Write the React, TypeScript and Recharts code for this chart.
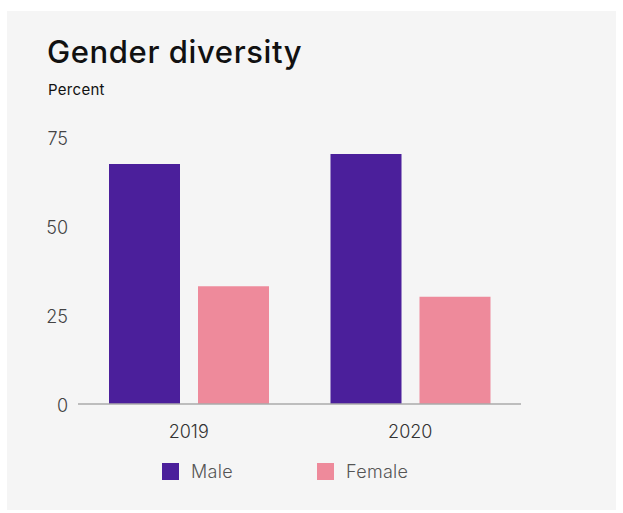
import React from 'react'
import { BarChart, Bar, XAxis, YAxis, Legend } from 'recharts'

const years = ['2019', '2020']
const maleShare = [67.4, 70.2]
const femaleShare = [33.1, 30.1]
const yTicks = [0, 25, 50, 75]

const series = [
  { key: 'male', name: 'Male', color: '#4B1F9B' },
  { key: 'female', name: 'Female', color: '#EE8A9B' },
]

const data = years.map((year, i) => ({ year, male: maleShare[i], female: femaleShare[i] }))

const FONT = 'Inter, "Noto Sans", sans-serif'

function LegendRow() {
  return (
    <div style={{ display: 'flex', alignItems: 'center', height: 20, fontFamily: FONT }}>
      {series.map((s) => (
        <div key={s.key} style={{ display: 'flex', alignItems: 'center', width: 155 }}>
          <span style={{ display: 'inline-block', width: 17, height: 17, background: s.color, marginRight: 12 }} />
          <span style={{ fontSize: 18, fontWeight: 300, color: '#555', letterSpacing: 0.3 }}>{s.name}</span>
        </div>
      ))}
    </div>
  )
}

export default function App() {
  return (
    <div style={{ position: 'absolute', left: 7, top: 11, width: 609, height: 499, background: '#f5f5f5' }}>
      <div style={{ position: 'absolute', left: 40, top: 26, fontFamily: FONT, fontSize: 31, lineHeight: '30px', fontWeight: 500, color: '#111', whiteSpace: 'nowrap', letterSpacing: 0.6 }}>
        Gender diversity
      </div>
      <div style={{ position: 'absolute', left: 41, top: 71, fontFamily: FONT, fontSize: 15, lineHeight: '15px', color: '#111', letterSpacing: 0.3 }}>
        Percent
      </div>
      <div style={{ position: 'absolute', left: 0, top: 0 }}>
        <BarChart width={609} height={499} data={data} margin={{ top: 126, right: 95, left: 0, bottom: 0 }} barSize={71} barGap={18}>
          <XAxis
            dataKey="year"
            height={86}
            tickSize={0}
            tickMargin={21}
            axisLine={{ stroke: '#aaaaaa', strokeWidth: 1.5 }}
            tick={{ fontSize: 18, fill: '#333', fontFamily: FONT, fontWeight: 300 }}
          />
          <YAxis
            width={71}
            domain={[0, 75]}
            ticks={yTicks}
            axisLine={false}
            tickLine={false}
            tickSize={0}
            tickMargin={10}
            tick={{ fontSize: 18, fill: '#444', fontFamily: FONT, fontWeight: 300, dy: 2 }}
          />
          <Legend
            verticalAlign="bottom"
            content={() => <LegendRow />}
            wrapperStyle={{ top: 450, left: 155, width: 360 }}
          />
          {series.map((s) => (
            <Bar key={s.key} dataKey={s.key} name={s.name} fill={s.color} isAnimationActive={false} />
          ))}
        </BarChart>
      </div>
    </div>
  )
}
